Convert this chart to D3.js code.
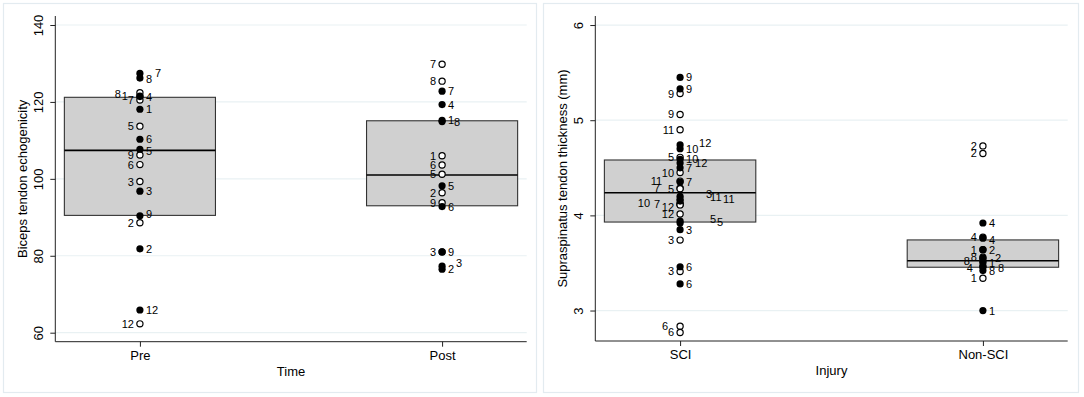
<!DOCTYPE html>
<html>
<head>
<meta charset="utf-8">
<script src="https://cdn.jsdelivr.net/npm/d3@7"></script>
<style>
  body { margin: 0; background: #fff; }
  svg { display: block; font-family: "Liberation Sans", Arial, sans-serif; }
</style>
</head>
<body>
<div id="vis-display"></div>
<script>
// Two box panels with labelled subject points (filled / hollow markers).

// ── Data: left panel (Time) ─────────────────────────────────────────────────

const TIME_CATS    = ["Pre", "Post"];
const TIME_TICKS   = [60, 80, 100, 120, 140];
const TIME_Q1      = [90.5, 93.0];
const TIME_MEDIAN  = [107.4, 101.0];
const TIME_Q3      = [121.2, 115.1];

// [category, subject id, value]
const TIME_FILLED = [
  ["Pre", 7, 127.4], ["Pre", 8, 126.2], ["Pre", 4, 121.4], ["Pre", 1, 118.1],
  ["Pre", 6, 110.3], ["Pre", 5, 107.7], ["Pre", 3, 96.8], ["Pre", 9, 90.4],
  ["Pre", 2, 81.8], ["Pre", 12, 65.9],
  ["Post", 7, 122.8], ["Post", 4, 119.3], ["Post", 1, 115.2], ["Post", 8, 114.9],
  ["Post", 5, 98.2], ["Post", 6, 92.8], ["Post", 9, 81.0], ["Post", 3, 77.3],
  ["Post", 2, 76.5],
];
const TIME_HOLLOW = [
  ["Pre", 8, 122.4], ["Pre", 1, 121.5], ["Pre", 7, 120.5], ["Pre", 5, 113.7],
  ["Pre", 9, 106.2], ["Pre", 6, 103.7], ["Pre", 3, 99.3], ["Pre", 2, 88.6],
  ["Pre", 12, 62.3],
  ["Post", 7, 129.8], ["Post", 8, 125.4], ["Post", 1, 106.0], ["Post", 6, 103.6],
  ["Post", 5, 101.2], ["Post", 2, 96.4], ["Post", 9, 93.8], ["Post", 3, 81.0],
];

// ── Data: right panel (Injury) ──────────────────────────────────────────────

const INJURY_CATS   = ["SCI", "Non-SCI"];
const INJURY_TICKS  = [3, 4, 5, 6];
const INJURY_Q1     = [3.93, 3.455];
const INJURY_MEDIAN = [4.238, 3.524];
const INJURY_Q3     = [4.582, 3.742];

const INJURY_FILLED = [
  ["SCI", 9, 5.45], ["SCI", 9, 5.33], ["SCI", 12, 4.74], ["SCI", 10, 4.7],
  ["SCI", 10, 4.59], ["SCI", 12, 4.55], ["SCI", 7, 4.5], ["SCI", 7, 4.35],
  ["SCI", 3, 4.2], ["SCI", 11, 4.17], ["SCI", 11, 4.15], ["SCI", 5, 3.94],
  ["SCI", 5, 3.92], ["SCI", 3, 3.85], ["SCI", 6, 3.46], ["SCI", 6, 3.28],
  ["Non-SCI", 4, 3.92], ["Non-SCI", 4, 3.76], ["Non-SCI", 2, 3.64], ["Non-SCI", 2, 3.55],
  ["Non-SCI", 1, 3.5], ["Non-SCI", 8, 3.46], ["Non-SCI", 8, 3.42], ["Non-SCI", 1, 3.0],
];
const INJURY_HOLLOW = [
  ["SCI", 9, 5.28], ["SCI", 9, 5.06], ["SCI", 11, 4.9], ["SCI", 5, 4.61],
  ["SCI", 10, 4.45], ["SCI", 11, 4.36], ["SCI", 7, 4.285], ["SCI", 5, 4.28],
  ["SCI", 10, 4.12], ["SCI", 7, 4.115], ["SCI", 12, 4.11], ["SCI", 12, 4.015],
  ["SCI", 3, 3.74], ["SCI", 3, 3.41], ["SCI", 6, 2.835], ["SCI", 6, 2.77],
  ["Non-SCI", 2, 4.73], ["Non-SCI", 2, 4.65], ["Non-SCI", 4, 3.77], ["Non-SCI", 1, 3.64],
  ["Non-SCI", 8, 3.56], ["Non-SCI", 8, 3.52], ["Non-SCI", 4, 3.46], ["Non-SCI", 1, 3.34],
];

// ── Label nudges (px) where labels were shifted to avoid overlap ────────────

const LABEL_NUDGE = {
  "f|Pre|7|127.4": [9, 0],   "f|Pre|8|126.2": [0, 1],  "f|Pre|5|107.7": [0, 2],
  "f|Pre|9|90.4": [0, -2],   "f|Post|8|114.9": [6, 0], "f|Post|3|77.3": [8, -3],
  "h|Pre|8|122.4": [-13, 1], "h|Pre|1|121.5": [-6, 0],
  "f|SCI|12|4.74": [13, -2], "f|SCI|12|4.55": [9, 0],  "f|SCI|3|4.2": [20, -2],
  "f|SCI|11|4.17": [24, -2], "f|SCI|11|4.15": [37, -2], "f|SCI|5|3.94": [24, -2],
  "f|SCI|5|3.92": [31, -1],
  "f|Non-SCI|4|3.76": [0, 2], "f|Non-SCI|2|3.55": [6, 0], "f|Non-SCI|8|3.46": [9, 1],
  "h|SCI|11|4.36": [-12, 0], "h|SCI|7|4.285": [-14, 0], "h|SCI|10|4.12": [-24, -1],
  "h|SCI|7|4.115": [-14, 0], "h|SCI|12|4.11": [0, 2],  "h|SCI|6|2.835": [-6, 0],
  "h|Non-SCI|8|3.52": [-7, 0], "h|Non-SCI|4|3.46": [-4, 1],
};

// ── Layout ──────────────────────────────────────────────────────────────────

const W = 1084, H = 397;
const GRID = "#e9f1f3", FRAME = "#e3ebf0", AXIS = "#222";

const PANELS = [
  {
    frame: [3.5, 3.5, 533, 389],
    x0: 55.3, x1: 526.7, y0: 16, y1: 341.7,
    domain: [57.66, 142.34],
    cats: TIME_CATS, ticks: TIME_TICKS,
    q1: TIME_Q1, median: TIME_MEDIAN, q3: TIME_Q3,
    filled: TIME_FILLED, hollow: TIME_HOLLOW,
    yTitle: "Biceps tendon echogenicity", xTitle: "Time",
  },
  {
    frame: [543.5, 3.5, 535, 389],
    x0: 595.3, x1: 1067.7, y0: 16, y1: 341,
    domain: [2.68, 6.095],
    cats: INJURY_CATS, ticks: INJURY_TICKS,
    q1: INJURY_Q1, median: INJURY_MEDIAN, q3: INJURY_Q3,
    filled: INJURY_FILLED, hollow: INJURY_HOLLOW,
    yTitle: "Supraspinatus tendon thickness (mm)", xTitle: "Injury",
  },
];

const svg = d3.select("#vis-display").append("svg")
  .attr("width", W)
  .attr("height", H);

PANELS.forEach(drawPanel);

function drawPanel(p) {
  const g = svg.append("g");

  g.append("rect")
    .attr("x", p.frame[0]).attr("y", p.frame[1])
    .attr("width", p.frame[2]).attr("height", p.frame[3])
    .attr("fill", "#fff").attr("stroke", FRAME).attr("stroke-width", 1.2);

  const x = d3.scalePoint().domain(p.cats).range([p.x0, p.x1]).padding(0.28);
  const y = d3.scaleLinear().domain(p.domain).range([p.y1, p.y0]);
  const boxW = x.step() * 0.5;

  // grid
  g.append("g")
    .selectAll("line")
    .data(p.ticks)
    .join("line")
      .attr("x1", p.x0).attr("x2", p.x1)
      .attr("y1", d => y(d)).attr("y2", d => y(d))
      .attr("stroke", GRID).attr("stroke-width", 1.2);

  // y axis
  g.append("g")
    .attr("transform", `translate(${p.x0},0)`)
    .call(d3.axisLeft(y).tickValues(p.ticks).tickSize(5).tickPadding(0).tickFormat(d3.format("d")))
    .call(ax => ax.select(".domain").attr("d", `M0,${p.y0}V${p.y1}`).attr("stroke", AXIS))
    .call(ax => ax.selectAll(".tick line").attr("stroke", AXIS))
    .call(ax => ax.selectAll(".tick text")
      .attr("x", null).attr("dy", null)
      .attr("transform", "translate(-12,0) rotate(-90)")
      .attr("text-anchor", "middle")
      .style("font-family", "Liberation Sans, Arial, sans-serif")
      .style("font-size", "13px").style("fill", "#000"));

  // x axis
  g.append("g")
    .attr("transform", `translate(0,${p.y1})`)
    .call(d3.axisBottom(x).tickSize(5).tickPadding(4))
    .call(ax => ax.select(".domain").attr("d", `M${p.x0},0H${p.x1}`).attr("stroke", AXIS))
    .call(ax => ax.selectAll(".tick line").attr("stroke", AXIS))
    .call(ax => ax.selectAll(".tick text")
      .style("font-family", "Liberation Sans, Arial, sans-serif")
      .style("font-size", "13px").style("fill", "#000"));

  // titles
  g.append("text")
    .attr("transform", `translate(${p.x0 - 28},${(p.y0 + p.y1) / 2}) rotate(-90)`)
    .attr("text-anchor", "middle")
    .style("font-size", "13px")
    .text(p.yTitle);

  g.append("text")
    .attr("x", (p.x0 + p.x1) / 2)
    .attr("y", p.y1 + 34)
    .attr("text-anchor", "middle")
    .style("font-size", "13px")
    .text(p.xTitle);

  // boxes (Q1–Q3 with median)
  const boxes = p.cats.map((c, i) => ({ c, q1: p.q1[i], med: p.median[i], q3: p.q3[i] }));

  g.append("g")
    .selectAll("rect")
    .data(boxes)
    .join("rect")
      .attr("x", d => x(d.c) - boxW / 2)
      .attr("y", d => y(d.q3))
      .attr("width", boxW)
      .attr("height", d => y(d.q1) - y(d.q3))
      .attr("fill", "#d0d0d0")
      .attr("stroke", "#333")
      .attr("stroke-width", 1.1);

  g.append("g")
    .selectAll("line")
    .data(boxes)
    .join("line")
      .attr("x1", d => x(d.c) - boxW / 2)
      .attr("x2", d => x(d.c) + boxW / 2)
      .attr("y1", d => y(d.med))
      .attr("y2", d => y(d.med))
      .attr("stroke", "#000")
      .attr("stroke-width", 1.6);

  // points
  const hollow = p.hollow.map(([c, id, v]) => ({ c, id, v, kind: "h" }));
  const filled = p.filled.map(([c, id, v]) => ({ c, id, v, kind: "f" }));

  g.append("g")
    .selectAll("circle")
    .data(hollow)
    .join("circle")
      .attr("cx", d => x(d.c))
      .attr("cy", d => y(d.v))
      .attr("r", 3.1)
      .attr("fill", "#fff")
      .attr("stroke", "#000")
      .attr("stroke-width", 1.2);

  g.append("g")
    .selectAll("circle")
    .data(filled)
    .join("circle")
      .attr("cx", d => x(d.c))
      .attr("cy", d => y(d.v))
      .attr("r", 3.6)
      .attr("fill", "#000");

  // point labels: filled to the right, hollow to the left
  const nudge = d => LABEL_NUDGE[`${d.kind}|${d.c}|${d.id}|${d.v}`] || [0, 0];

  g.append("g")
    .selectAll("text")
    .data(hollow.concat(filled))
    .join("text")
      .attr("x", d => x(d.c) + (d.kind === "f" ? 6 : -6) + nudge(d)[0])
      .attr("y", d => y(d.v) + nudge(d)[1])
      .attr("dy", "0.36em")
      .attr("text-anchor", d => d.kind === "f" ? "start" : "end")
      .style("font-size", "11px")
      .style("fill", "#000")
      .text(d => d.id);
}
</script>
</body>
</html>
